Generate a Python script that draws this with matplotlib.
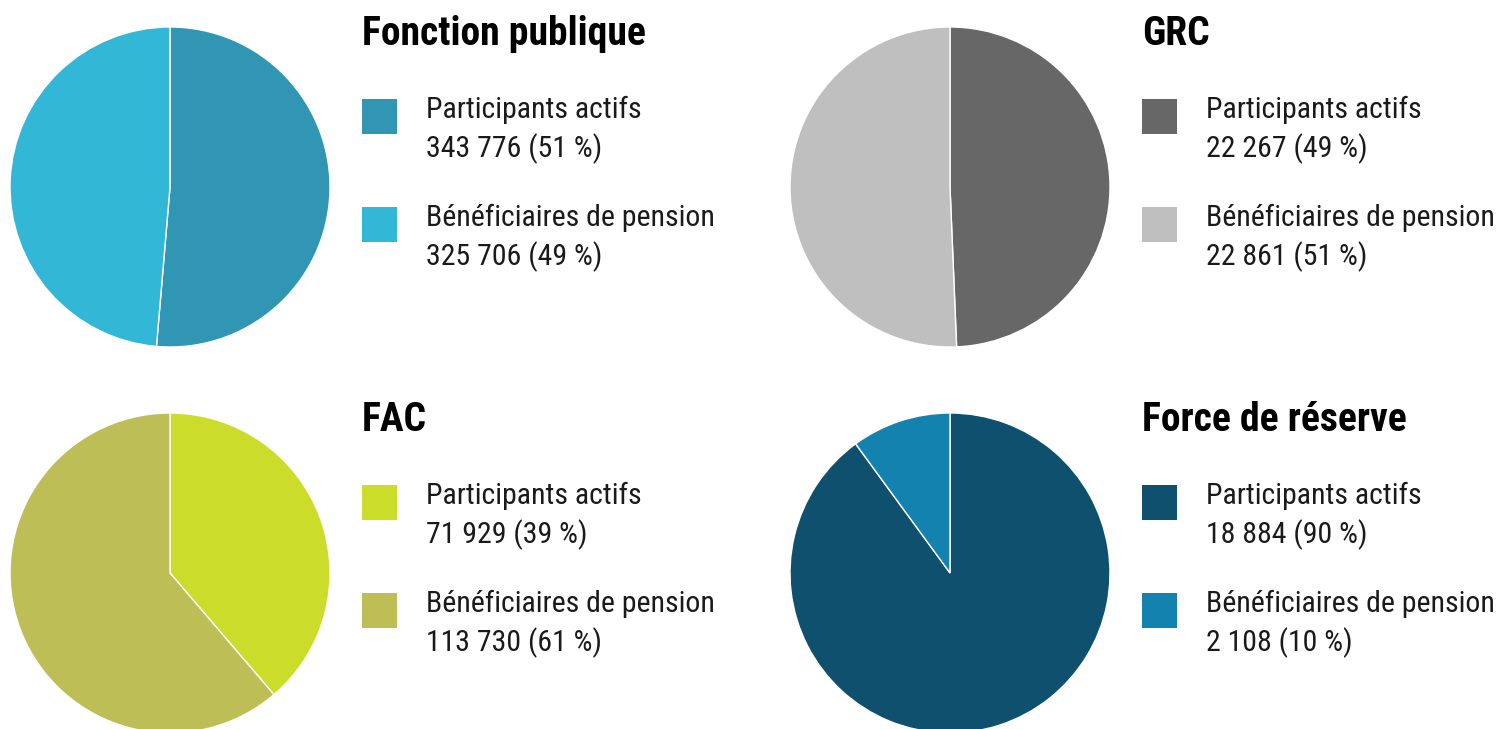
import matplotlib

matplotlib.use("Agg")
import matplotlib.pyplot as plt
from matplotlib.patches import Rectangle

W, H = 1512, 729

# data
titles = ["Fonction publique", "GRC", "FAC", "Force de réserve"]
labels = ["Participants actifs", "Bénéficiaires de pension"]
actifs = [343776, 22267, 71929, 18884]
beneficiaires = [325706, 22861, 113730, 2108]
pct_actifs = [51, 49, 39, 90]
pct_benef = [49, 51, 61, 10]
colors = [
    ("#3196b3", "#33b7d6"),
    ("#676767", "#bfbfbf"),
    ("#ccdc2a", "#bdbf56"),
    ("#0f506f", "#1382ae"),
]

FONT = ["Roboto Condensed", "DejaVu Sans"]
plt.rcParams["font.family"] = FONT


def fmt(n):
    return f"{n:,}".replace(",", " ")


fig = plt.figure(figsize=(W / 100, H / 100), dpi=100)
ax = fig.add_axes([0, 0, 1, 1])

# panel origins (pie centre x, top offset y) in pixel coords
panels = [(170, 0), (950, 0), (170, 386), (950, 386)]

for i, (cx, dy) in enumerate(panels):
    ax.pie(
        [actifs[i], beneficiaires[i]],
        colors=colors[i],
        startangle=90,
        counterclock=False,
        center=(cx, H - (187 + dy)),
        radius=160,
        wedgeprops=dict(edgecolor="white", linewidth=1),
    )
    lx = cx + 192
    ax.text(lx, H - (45 + dy), titles[i], fontsize=28.5, fontweight="bold",
            color="black", va="baseline", ha="left")
    vals = [(actifs[i], pct_actifs[i]), (beneficiaires[i], pct_benef[i])]
    for j, (v, p) in enumerate(vals):
        off = dy + j * 108
        ax.add_patch(Rectangle((lx, H - (134 + off)), 35, 35,
                               facecolor=colors[i][j], edgecolor="none"))
        ax.text(lx + 64, H - (118 + off), labels[j], fontsize=21.5,
                color="#1a1a1a", va="baseline", ha="left")
        ax.text(lx + 64, H - (157 + off), f"{fmt(v)} ({p} %)", fontsize=21.5,
                color="#1a1a1a", va="baseline", ha="left")

ax.set_xlim(0, W)
ax.set_ylim(0, H)
ax.set_aspect("auto")
ax.axis("off")

fig.savefig("out.png", dpi=100)
